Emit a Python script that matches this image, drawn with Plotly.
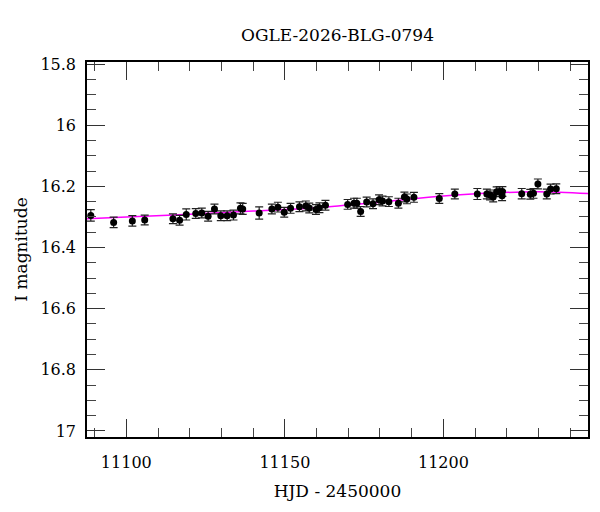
import plotly.graph_objects as go

# Photometric data (HJD - 2450000, I magnitude, error)
hjd = [11088.8, 11096.0, 11101.9, 11105.8, 11114.7, 11116.8, 11118.9, 11121.9,
       11123.8, 11125.8, 11127.8, 11129.8, 11131.8, 11133.8, 11136.0, 11136.7,
       11141.9, 11145.9, 11147.8, 11149.8, 11151.8, 11154.6, 11156.6, 11157.7,
       11159.8, 11160.9, 11162.8, 11169.8, 11171.8, 11172.7, 11173.9, 11175.8,
       11177.8, 11179.7, 11180.8, 11182.8, 11185.8, 11187.7, 11188.5, 11190.7,
       11198.7, 11203.6, 11210.7, 11213.7, 11214.7, 11215.7, 11216.8, 11217.7,
       11218.5, 11218.6, 11224.7, 11227.4, 11228.4, 11229.8, 11232.6, 11233.8,
       11235.6]
mag = [16.295, 16.318, 16.313, 16.310, 16.306, 16.311, 16.292, 16.289,
       16.287, 16.298, 16.274, 16.296, 16.296, 16.294, 16.272, 16.274,
       16.287, 16.274, 16.268, 16.285, 16.272, 16.267, 16.264, 16.271,
       16.276, 16.270, 16.262, 16.259, 16.255, 16.255, 16.282, 16.251,
       16.257, 16.244, 16.248, 16.250, 16.255, 16.235, 16.241, 16.236,
       16.240, 16.225, 16.225, 16.225, 16.228, 16.235, 16.218, 16.217,
       16.231, 16.217, 16.224, 16.226, 16.223, 16.192, 16.225, 16.209,
       16.208]
mag_err = [0.019, 0.017, 0.017, 0.016, 0.016, 0.016, 0.018, 0.016,
           0.016, 0.016, 0.016, 0.016, 0.016, 0.016, 0.018, 0.018,
           0.020, 0.016, 0.016, 0.016, 0.016, 0.016, 0.016, 0.016,
           0.016, 0.016, 0.016, 0.016, 0.016, 0.016, 0.016, 0.016,
           0.016, 0.016, 0.016, 0.016, 0.016, 0.016, 0.016, 0.016,
           0.016, 0.016, 0.018, 0.016, 0.016, 0.016, 0.016, 0.016,
           0.016, 0.016, 0.017, 0.016, 0.016, 0.016, 0.016, 0.016,
           0.016]

# Model light curve
model_hjd = [11087, 11100, 11120, 11140, 11160, 11180, 11200, 11215, 11230, 11246]
model_mag = [16.306, 16.300, 16.291, 16.281, 16.270, 16.252, 16.232, 16.222, 16.218, 16.224]

x_ticks = [11100, 11150, 11200]
x_tick_labels = ["11100", "11150", "11200"]
y_ticks = [15.8, 16, 16.2, 16.4, 16.6, 16.8, 17]
y_tick_labels = ["15.8", "16", "16.2", "16.4", "16.6", "16.8", "17"]

FONT = "DejaVu Serif"

fig = go.Figure()
fig.add_trace(go.Scatter(
    x=model_hjd, y=model_mag, mode="lines",
    line=dict(color="#ff00ff", width=1.5, shape="spline"),
    hoverinfo="skip", showlegend=False))
fig.add_trace(go.Scatter(
    x=hjd, y=mag, mode="markers",
    marker=dict(color="black", size=7),
    error_y=dict(type="data", array=mag_err, visible=True,
                 color="#222222", thickness=1.2, width=4),
    showlegend=False))

axis_common = dict(
    showgrid=False, zeroline=False, showline=True, linecolor="black",
    linewidth=1.5, mirror="ticks", ticks="inside", ticklen=18,
    tickwidth=1, tickcolor="#333333", automargin=False,
    tickfont=dict(family=FONT, size=16, color="black"),
)

fig.update_xaxes(
    range=[11087.6, 11245.6], tickvals=x_ticks, ticktext=x_tick_labels,
    minor=dict(dtick=10, ticks="inside", ticklen=9, tickcolor="#444444", tickwidth=1),
    title=dict(text="HJD - 2450000", font=dict(family=FONT, size=17, color="black"), standoff=14),
    ticklabelstandoff=10,
    **axis_common)
fig.update_yaxes(
    range=[17.0197, 15.7934], tickvals=y_ticks, ticktext=y_tick_labels,
    minor=dict(dtick=0.05, ticks="inside", ticklen=9, tickcolor="#444444", tickwidth=1),
    title=dict(text="I magnitude", font=dict(family=FONT, size=17, color="black"), standoff=8),
    ticklabelstandoff=6,
    **axis_common)

W, H = 592, 504
fig.update_layout(
    width=W, height=H,
    margin=dict(l=79, r=12, t=54, b=75),
    paper_bgcolor="white", plot_bgcolor="white",
    title=dict(text="OGLE-2026-BLG-0794", x=329.5 / W, xanchor="center",
               y=1 - 27 / H, yanchor="middle",
               font=dict(family=FONT, size=17, color="black")),
)

fig.write_html("out.html")
